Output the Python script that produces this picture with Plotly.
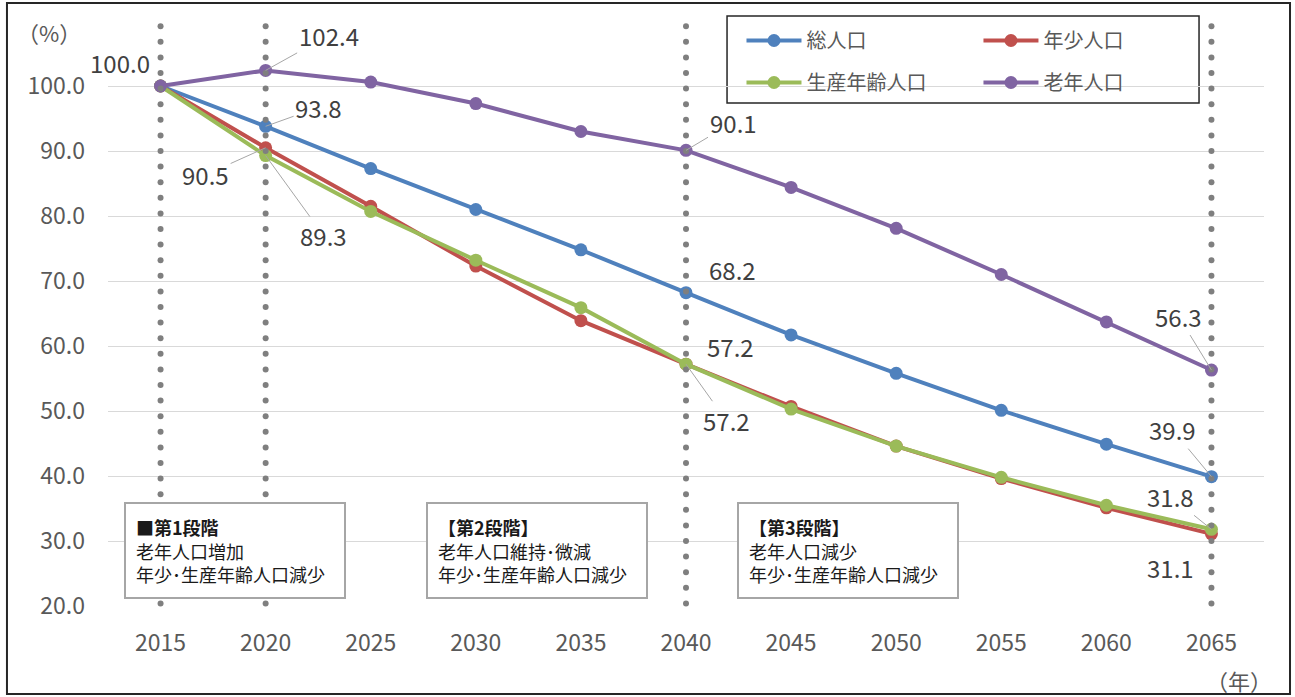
import numpy as np
import plotly.graph_objects as go

# Population index by year (2015 = 100)
years = [2015, 2020, 2025, 2030, 2035, 2040, 2045, 2050, 2055, 2060, 2065]
total_pop = [100.0, 93.8, 87.3, 81.0, 74.8, 68.2, 61.7, 55.8, 50.1, 44.9, 39.9]
young_pop = [100.0, 90.5, 81.5, 72.3, 63.9, 57.2, 50.7, 44.6, 39.6, 35.1, 31.1]
working_pop = [100.0, 89.3, 80.7, 73.2, 65.9, 57.2, 50.3, 44.6, 39.8, 35.5, 31.8]
elderly_pop = [100.0, 102.4, 100.6, 97.3, 93.0, 90.1, 84.4, 78.1, 71.0, 63.7, 56.3]

series_names = ["総人口", "年少人口", "生産年齢人口", "老年人口"]
series_colors = ["#4F81BD", "#C0504D", "#9BBB59", "#8064A2"]
series_values = [total_pop, young_pop, working_pop, elderly_pop]
series_legend = ["legend", "legend2", "legend", "legend2"]

stage_boundaries = [2015, 2020, 2040, 2065]
y_ticks = [20, 30, 40, 50, 60, 70, 80, 90, 100]

stage_texts = [
    "<b>■第1段階</b><br>老年人口増加<br>年少･生産年齢人口減少",
    "<b>【第2段階】</b><br>老年人口維持･微減<br>年少･生産年齢人口減少",
    "<b>【第3段階】</b><br>老年人口減少<br>年少･生産年齢人口減少",
]

FONT = "Noto Sans CJK JP"
TEXT_GREY = "#595959"
LABEL_GREY = "#404040"

fig = go.Figure()

for name, color, vals, lg in zip(series_names, series_colors, series_values, series_legend):
    fig.add_trace(go.Scatter(
        x=years, y=vals, name=name, mode="lines+markers",
        line=dict(color=color, width=4),
        marker=dict(color=color, size=13),
        legend=lg, legendgroup=name,
    ))

# dotted stage boundary lines (round dots)
dot_y = np.arange(20.4, 110.0, 2.4)
for yr in stage_boundaries:
    fig.add_trace(go.Scatter(
        x=[yr] * len(dot_y), y=dot_y, mode="markers",
        marker=dict(color="#7F7F7F", size=6),
        showlegend=False, hoverinfo="skip", cliponaxis=False,
    ))

# data labels: (series index, year index, x offset px, y offset px, leader line)
label_specs = [
    (3, 0, -41, -24, False),
    (3, 1, 63, -35, True),
    (0, 1, 53, -19, True),
    (1, 1, -60, 27, True),
    (2, 1, 58, 80, True),
    (3, 5, 47, -28, True),
    (0, 5, 46, -23, False),
    (1, 5, 44, -18, False),
    (2, 5, 40, 56, True),
    (3, 10, -33, -54, True),
    (0, 10, -39, -47, True),
    (2, 10, -41, -33, True),
    (1, 10, -41, 34, False),
]
for si, yi, ax, ay, leader in label_specs:
    v = series_values[si][yi]
    fig.add_annotation(
        x=years[yi], y=v, xref="x", yref="y",
        text=f"{v:.1f}", showarrow=True, arrowhead=0, arrowwidth=1,
        arrowcolor="#A6A6A6" if leader else "rgba(0,0,0,0)",
        ax=ax, ay=ay, axref="pixel", ayref="pixel",
        font=dict(family=FONT, size=24, color=LABEL_GREY),
    )

# stage description boxes
for xpos, txt in zip([0.0138, 0.2751, 0.5441], stage_texts):
    fig.add_annotation(
        x=xpos, y=0.1778, xref="paper", yref="paper",
        xanchor="left", yanchor="top", text=txt, showarrow=False,
        align="left", valign="middle", width=198, height=73,
        bordercolor="#A6A6A6", borderwidth=2, borderpad=10, bgcolor="white",
        font=dict(family=FONT, size=18, color="#1a1a1a"),
    )

# axis unit labels
fig.add_annotation(x=-0.051, y=0.981, xref="paper", yref="paper", text="（%）",
                   xanchor="center", yanchor="middle",
                   showarrow=False, font=dict(family=FONT, size=22, color=TEXT_GREY))
fig.add_annotation(x=0.978, y=-0.126, xref="paper", yref="paper", text="（年）",
                   xanchor="center", yanchor="middle",
                   showarrow=False, font=dict(family=FONT, size=22, color=TEXT_GREY))

# legend frame and outer chart frame
fig.add_shape(type="rect", xref="paper", yref="paper", x0=0.5355, x1=0.9438, y0=0.8598, y1=1.0085,
              line=dict(color="#262626", width=1.5), fillcolor="white", layer="between")
fig.add_shape(type="rect", xref="paper", yref="paper", x0=-0.0874, x1=1.0225, y0=-0.1504, y1=1.0308,
              line=dict(color="#262626", width=2), fillcolor="rgba(0,0,0,0)", layer="above")

legend_common = dict(
    bgcolor="rgba(0,0,0,0)", borderwidth=0, orientation="v",
    font=dict(family=FONT, size=20, color=TEXT_GREY),
    tracegroupgap=13, itemwidth=55, xanchor="left", yanchor="top", y=1.0,
)

fig.update_layout(
    width=1295, height=697,
    margin=dict(l=108, r=31, t=21, b=91),
    paper_bgcolor="white", plot_bgcolor="white",
    font=dict(family=FONT, color=TEXT_GREY),
    showlegend=True,
    legend=dict(x=0.548, **legend_common),
    legend2=dict(x=0.753, **legend_common),
    xaxis=dict(
        range=[2012.5, 2067.5], tickvals=years, showgrid=False, zeroline=False,
        showline=False, ticks="", tickfont=dict(family=FONT, size=23, color=TEXT_GREY),
        ticklabelstandoff=21,
    ),
    yaxis=dict(
        range=[20, 110], tickvals=y_ticks, tickformat=".1f", showgrid=True,
        gridcolor="#D9D9D9", gridwidth=1, zeroline=False, showline=False, ticks="",
        tickfont=dict(family=FONT, size=23, color=TEXT_GREY), ticklabelstandoff=22,
    ),
)

fig.write_html("out.html")
